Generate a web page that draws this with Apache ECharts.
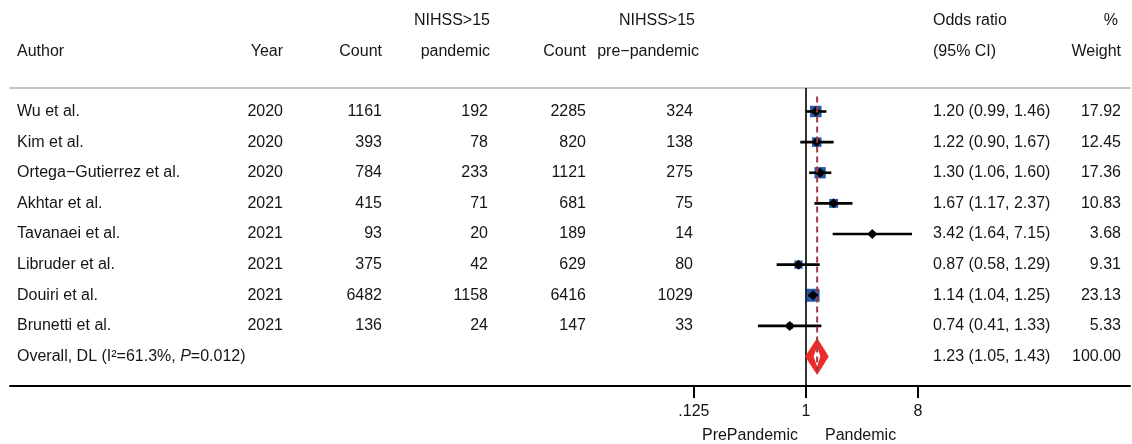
<!DOCTYPE html>
<html>
<head>
<meta charset="utf-8">
<script src="https://cdn.jsdelivr.net/npm/echarts@6/dist/echarts.min.js"></script>
<style>
  html, body { margin: 0; padding: 0; background: #fff; }
  #main { width: 1132px; height: 444px; }
</style>
</head>
<body>
<div id="main"></div>
<script>
// study rows
var authors = ['Wu et al.', 'Kim et al.', 'Ortega\u2212Gutierrez et al.', 'Akhtar et al.',
               'Tavanaei et al.', 'Libruder et al.', 'Douiri et al.', 'Brunetti et al.'];
var years = [2020, 2020, 2020, 2021, 2021, 2021, 2021, 2021];
var countPandemic = [1161, 393, 784, 415, 93, 375, 6482, 136];
var severePandemic = [192, 78, 233, 71, 20, 42, 1158, 24];
var countPre = [2285, 820, 1121, 681, 189, 629, 6416, 147];
var severePre = [324, 138, 275, 75, 14, 80, 1029, 33];
var oddsRatio = [1.20, 1.22, 1.30, 1.67, 3.42, 0.87, 1.14, 0.74];
var ciLow = [0.99, 0.90, 1.06, 1.17, 1.64, 0.58, 1.04, 0.41];
var ciHigh = [1.46, 1.67, 1.60, 2.37, 7.15, 1.29, 1.25, 1.33];
var weights = [17.92, 12.45, 17.36, 10.83, 3.68, 9.31, 23.13, 5.33];

// pooled estimate (DL)
var overallLabel = 'Overall, DL (I\u00b2=61.3%, {i|P}=0.012)';
var overallOR = [1.23, 1.05, 1.43];   // estimate, low, high
var overallWeight = 100;

// x axis (odds ratio, log scale)
var tickValues = [0.125, 1, 8];
var tickLabels = ['.125', '1', '8'];

var FONT = 'Liberation Sans, Arial, Helvetica, sans-serif';
var TXT = '#151515';
var nRows = authors.length;   // overall row sits at index nRows

function lg(v) { return Math.log2(v); }
function ciText(o, l, h) { return o.toFixed(2) + ' (' + l.toFixed(2) + ', ' + h.toFixed(2) + ')'; }

// column anchors (px)
var col = { author: 17, year: 283, count: 382, sevP: 488, countPre: 586, sevPre: 693, ci: 933, weight: 1121 };

var tableRows = [];
for (var i = 0; i < nRows; i++) {
    tableRows.push([i, authors[i], years[i], countPandemic[i], severePandemic[i], countPre[i], severePre[i],
                    ciText(oddsRatio[i], ciLow[i], ciHigh[i]), weights[i].toFixed(2)]);
}
tableRows.push([nRows, overallLabel, '', '', '', '', '', ciText(overallOR[0], overallOR[1], overallOR[2]), overallWeight.toFixed(2)]);

var studyCI = [], squares = [], points = [];
for (var j = 0; j < nRows; j++) {
    studyCI.push([lg(ciLow[j]), lg(ciHigh[j]), j]);
    squares.push([lg(oddsRatio[j]), j, weights[j]]);
    points.push([lg(oddsRatio[j]), j]);
}

function txt(x, y, s, align) {
    return { type: 'text', x: x, y: y, style: { text: String(s), x: 0, y: 0, fill: TXT,
        font: '16px ' + FONT, align: align, verticalAlign: 'middle',
        rich: { i: { fontStyle: 'italic', fontSize: 16, fontFamily: FONT, fill: TXT } } } };
}

var chart = echarts.init(document.getElementById('main'));
var option = {
    backgroundColor: '#fff',
    animation: false,
    grid: { left: 10, right: 2, top: 88, bottom: 58 },
    xAxis: [
        {
            type: 'value', position: 'bottom',
            min: -21.312, max: 8.675,
            axisLine: { onZero: false, lineStyle: { color: '#000', width: 2 } },
            axisTick: { show: true, customValues: tickValues.map(lg), length: 12, lineStyle: { color: '#000', width: 2 } },
            axisLabel: {
                customValues: tickValues.map(lg), margin: 18, color: TXT, fontSize: 16, fontFamily: FONT,
                formatter: function (v) {
                    for (var k = 0; k < tickValues.length; k++) {
                        if (Math.abs(lg(tickValues[k]) - v) < 1e-6) return tickLabels[k];
                    }
                    return '';
                }
            },
            splitLine: { show: false }
        },
        {
            type: 'value', position: 'top',
            min: -21.312, max: 8.675,
            axisLine: { onZero: false, lineStyle: { color: '#c4c4c4', width: 2 } },
            axisTick: { show: false }, axisLabel: { show: false }, splitLine: { show: false }
        }
    ],
    yAxis: { type: 'value', inverse: true, min: -0.767, max: 8.963, show: false },
    graphic: [
        txt(490, 21, 'NIHSS>15', 'right'),
        txt(695, 21, 'NIHSS>15', 'right'),
        txt(col.ci, 21, 'Odds ratio', 'left'),
        txt(1118, 21, '%', 'right'),
        txt(col.author, 52, 'Author', 'left'),
        txt(col.year, 52, 'Year', 'right'),
        txt(col.count, 52, 'Count', 'right'),
        txt(490, 52, 'pandemic', 'right'),
        txt(col.countPre, 52, 'Count', 'right'),
        txt(699, 52, 'pre\u2212pandemic', 'right'),
        txt(col.ci, 52, '(95% CI)', 'left'),
        txt(col.weight, 52, 'Weight', 'right'),
        txt(798, 436, 'PrePandemic', 'right'),
        txt(825, 436, 'Pandemic', 'left')
    ],
    series: [
        {   // table text
            type: 'custom', silent: true, z: 2,
            data: tableRows,
            renderItem: function (params, api) {
                var r = tableRows[params.dataIndex];
                var y = api.coord([0, r[0]])[1];
                return { type: 'group', children: [
                    txt(col.author, y, r[1], 'left'),
                    txt(col.year, y, r[2], 'right'),
                    txt(col.count, y, r[3], 'right'),
                    txt(col.sevP, y, r[4], 'right'),
                    txt(col.countPre, y, r[5], 'right'),
                    txt(col.sevPre, y, r[6], 'right'),
                    txt(col.ci, y, r[7], 'left'),
                    txt(col.weight, y, r[8], 'right')
                ] };
            },
            markLine: {
                silent: true, symbol: 'none', label: { show: false },
                lineStyle: { color: '#000', type: 'solid', width: 1.6 },
                data: [{ xAxis: 0 }]
            }
        },
        {   // weight boxes
            type: 'scatter', silent: true, z: 3,
            data: squares, symbol: 'rect',
            symbolSize: function (d) { return 2.7 * Math.sqrt(d[2]); },
            itemStyle: { color: '#2259a8', opacity: 1 }
        },
        {   // confidence intervals
            type: 'custom', silent: true, z: 4,
            data: studyCI,
            renderItem: function (params, api) {
                var a = api.coord([api.value(0), api.value(2)]);
                var b = api.coord([api.value(1), api.value(2)]);
                return { type: 'line', shape: { x1: a[0], y1: a[1], x2: b[0], y2: b[1] },
                         style: { stroke: '#000', lineWidth: 2.6 } };
            }
        },
        {   // point estimates
            type: 'scatter', silent: true, z: 5,
            data: points, symbol: 'diamond', symbolSize: [10, 10],
            itemStyle: { color: '#000', opacity: 1 }
        },
        {   // pooled diamond
            type: 'custom', silent: true, z: 6,
            data: [[lg(overallOR[0]), lg(overallOR[1]), lg(overallOR[2]), nRows]],
            renderItem: function (params, api) {
                var c = api.coord([api.value(0), api.value(3)]);
                var l = api.coord([api.value(1), api.value(3)]);
                var h = api.coord([api.value(2), api.value(3)]);
                return { type: 'group', children: [
                    { type: 'polygon', shape: { points: [[l[0] - 3.5, c[1]], [c[0], c[1] - 18.5], [h[0] + 3.5, c[1]], [c[0], c[1] + 18.5]] },
                      style: { fill: '#ee2b2b' } },
                    { type: 'polygon', shape: { points: [[l[0] + 5, c[1]], [c[0], c[1] - 10], [h[0] - 5, c[1]], [c[0], c[1] + 10]] },
                      style: { fill: '#fff' } }
                ] };
            }
        },
        {   // pooled estimate reference line
            type: 'line', silent: true, z: 7,
            data: [[lg(overallOR[0]), -0.49], [lg(overallOR[0]), nRows + 0.5]],
            symbol: 'none',
            lineStyle: { color: '#9e3a44', width: 2, type: [6, 4] }
        }
    ]
};
chart.setOption(option);
</script>
</body>
</html>
